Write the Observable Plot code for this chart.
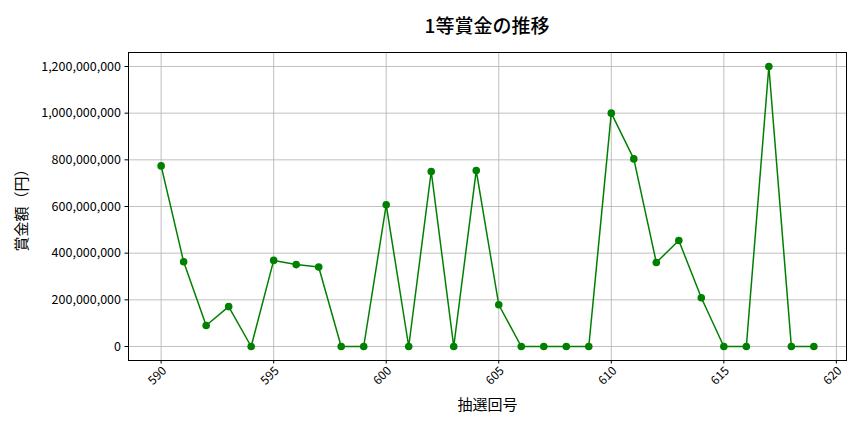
<!DOCTYPE html>
<html>
<head>
<meta charset="utf-8">
<script src="https://cdn.jsdelivr.net/npm/d3@7"></script>
<script src="https://cdn.jsdelivr.net/npm/@observablehq/plot@0.6"></script>
<style>
  body { margin: 0; background: #fff; font-family: "Noto Sans CJK JP", sans-serif; }
  #wrap { width: 864px; height: 432px; }
  #title { height: 40px; box-sizing: border-box; padding-left: 110px; text-align: center; font-size: 19px; line-height: 50px; font-weight: 500; color: #000; }
</style>
</head>
<body>
<div id="wrap">
  <div id="title">1等賞金の推移</div>
  <div id="chart"></div>
</div>
<script>
const draws = [590,591,592,593,594,595,596,597,598,599,600,601,602,603,604,605,606,607,608,609,610,611,612,613,614,615,616,617,618,619];
const prizes = [774000000,363000000,90000000,171000000,0,369000000,351000000,341000000,0,0,607000000,0,750000000,0,754000000,179000000,0,0,0,0,1000000000,804000000,360000000,454000000,209000000,0,0,1200000000,0,0];
const xTicks = [590,595,600,605,610,615,620];
const yTicks = [0,200000000,400000000,600000000,800000000,1000000000,1200000000];
const title = "1等賞金の推移";
const xLabel = "抽選回号";
const yLabel = "賞金額（円）";

const data = draws.map((d, i) => ({draw: d, prize: prizes[i]}));
const font = "Noto Sans CJK JP";

const chart = Plot.plot({
  width: 864,
  height: 392,
  marginTop: 12,
  marginBottom: 72,
  marginLeft: 128,
  marginRight: 18,
  style: {fontFamily: font, background: "#fff", color: "#000"},
  x: {domain: [588.55, 620.45]},
  y: {domain: [-60000000, 1260000000]},
  marks: [
    Plot.gridX(xTicks, {stroke: "#b0b0b0", strokeOpacity: 1, strokeWidth: 0.8}),
    Plot.gridY(yTicks, {stroke: "#b0b0b0", strokeOpacity: 1, strokeWidth: 0.8}),
    Plot.axisX({ticks: xTicks, tickSize: 3.5, tickFormat: () => "", label: null, stroke: "#000"}),
    Plot.text(xTicks, {x: d => d, text: d => String(d), frameAnchor: "bottom", dy: 18, dx: -1, rotate: -45, fontSize: 12, textAnchor: "middle", fill: "#000"}),
    Plot.axisY({ticks: yTicks, tickSize: 3.5, tickPadding: 4, tickFormat: d3.format(","), label: null, fontSize: 12.5, stroke: "#000"}),
    Plot.text([xLabel], {frameAnchor: "bottom", dy: 49, fontSize: 15, fill: "#000", textAnchor: "middle"}),
    Plot.text([yLabel], {frameAnchor: "left", dx: -106, rotate: -90, fontSize: 15, fill: "#000", textAnchor: "middle"}),
    Plot.line(data, {x: "draw", y: "prize", stroke: "green", strokeWidth: 1.5}),
    Plot.dot(data, {x: "draw", y: "prize", fill: "green", r: 3.8, stroke: "none"}),
    Plot.frame({stroke: "#000", strokeWidth: 1})
  ]
});
document.getElementById("chart").appendChild(chart);
</script>
</body>
</html>
